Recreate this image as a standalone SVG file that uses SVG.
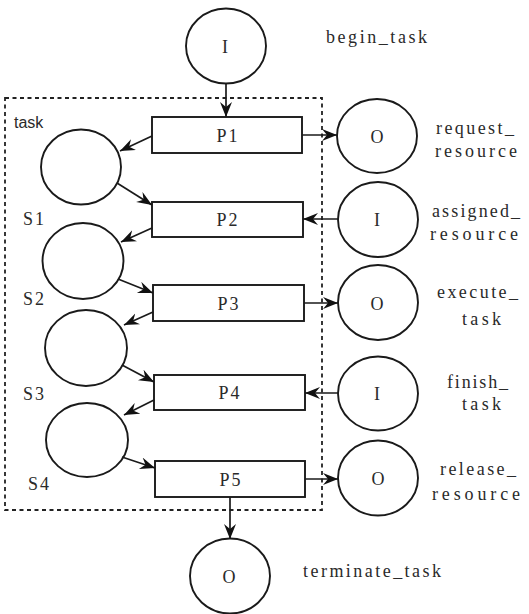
<svg xmlns="http://www.w3.org/2000/svg" width="529" height="614" viewBox="0 0 529 614">
<style>
.pl{fill:#fff;stroke:#1a1a1a;stroke-width:1.9}
.tr{fill:#fff;stroke:#1a1a1a;stroke-width:1.9}
.c{fill:none;stroke:#1a1a1a;stroke-width:1.7}
.t{font-family:'Liberation Serif','Times New Roman',serif;font-size:18px;fill:#2a2a2a;letter-spacing:2px}
.m{text-anchor:middle}
.s{font-family:'Liberation Sans',Arial,sans-serif;font-size:16px;fill:#2a2a2a}
.box{fill:none;stroke:#222;stroke-width:1.8;stroke-dasharray:4 3.5}
</style>
<defs>
<marker id="a" markerUnits="userSpaceOnUse" markerWidth="18" markerHeight="14" refX="15" refY="6" orient="auto">
<path d="M0,0 L15,6 L0,12 L5,6 z" fill="#111"/>
</marker>
</defs>
<rect id="task" class="box" x="5" y="98" width="317" height="412"/>
<text class="s" x="14" y="128">task</text>
<g id="begin_task"><ellipse class="pl" cx="226" cy="46" rx="40" ry="37.5"/><text class="t m" x="226" y="53">I</text></g>
<text class="t" x="326" y="43" textLength="103" lengthAdjust="spacing">begin_task</text>
<g id="P1"><rect class="tr" x="152" y="117" width="150" height="36"/><text class="t m" x="228" y="142">P1</text></g>
<g id="request_resource"><ellipse class="pl" cx="377" cy="136" rx="40" ry="37"/><text class="t m" x="378" y="143">O</text></g>
<text class="t" x="436" y="134" textLength="80" lengthAdjust="spacing">request_</text>
<text class="t" x="435" y="157" textLength="84" lengthAdjust="spacing">resource</text>
<g id="S1p"><ellipse class="pl" cx="81" cy="167" rx="40" ry="37.5"/></g>
<text class="t" x="23" y="225">S1</text>
<g id="P2"><rect class="tr" x="152" y="202" width="151" height="35"/><text class="t m" x="228" y="226">P2</text></g>
<g id="assigned_resource"><ellipse class="pl" cx="378" cy="219.5" rx="40" ry="37.5"/><text class="t m" x="378" y="226">I</text></g>
<text class="t" x="432" y="217" textLength="90" lengthAdjust="spacing">assigned_</text>
<text class="t" x="430" y="240" textLength="90" lengthAdjust="spacing">resource</text>
<g id="S2p"><ellipse class="pl" cx="83" cy="261" rx="40.5" ry="38"/></g>
<text class="t" x="23" y="305">S2</text>
<g id="P3"><rect class="tr" x="153" y="285" width="151" height="36"/><text class="t m" x="229" y="310">P3</text></g>
<g id="execute_task"><ellipse class="pl" cx="378" cy="302.5" rx="40" ry="37.5"/><text class="t m" x="378" y="310">O</text></g>
<text class="t" x="437" y="298" textLength="83" lengthAdjust="spacing">execute_</text>
<text class="t" x="462" y="325" textLength="41" lengthAdjust="spacing">task</text>
<g id="S3p"><ellipse class="pl" cx="86" cy="348" rx="41" ry="38"/></g>
<text class="t" x="23" y="400">S3</text>
<g id="P4"><rect class="tr" x="154" y="375" width="151" height="35"/><text class="t m" x="230" y="399">P4</text></g>
<g id="finish_task"><ellipse class="pl" cx="378" cy="393.5" rx="40" ry="37"/><text class="t m" x="378" y="400">I</text></g>
<text class="t" x="447" y="388" textLength="63" lengthAdjust="spacing">finish_</text>
<text class="t" x="462" y="410" textLength="41" lengthAdjust="spacing">task</text>
<g id="S4p"><ellipse class="pl" cx="87" cy="440" rx="41" ry="37"/></g>
<text class="t" x="28" y="490">S4</text>
<g id="P5"><rect class="tr" x="155" y="461" width="150" height="36"/><text class="t m" x="231" y="486">P5</text></g>
<g id="release_resource"><ellipse class="pl" cx="378" cy="478" rx="40" ry="37.5"/><text class="t m" x="379" y="485">O</text></g>
<text class="t" x="440" y="475" textLength="78" lengthAdjust="spacing">release_</text>
<text class="t" x="432" y="500" textLength="90" lengthAdjust="spacing">resource</text>
<g id="terminate_task"><ellipse class="pl" cx="230" cy="576" rx="40" ry="37.5"/><text class="t m" x="230" y="583">O</text></g>
<text class="t" x="303" y="577" textLength="140" lengthAdjust="spacing">terminate_task</text>
<g id="connectors" class="c">
<line x1="226" y1="84" x2="226" y2="117" marker-end="url(#a)"/>
<line x1="152" y1="136" x2="120" y2="151" marker-end="url(#a)"/>
<line x1="302" y1="135" x2="337" y2="135" marker-end="url(#a)"/>
<line x1="117" y1="183" x2="152" y2="205" marker-end="url(#a)"/>
<line x1="338" y1="219" x2="303" y2="219" marker-end="url(#a)"/>
<line x1="152" y1="228" x2="121" y2="242" marker-end="url(#a)"/>
<line x1="118" y1="279" x2="153" y2="293" marker-end="url(#a)"/>
<line x1="304" y1="303" x2="338" y2="303" marker-end="url(#a)"/>
<line x1="153" y1="312" x2="124" y2="325" marker-end="url(#a)"/>
<line x1="122" y1="365" x2="154" y2="382" marker-end="url(#a)"/>
<line x1="338" y1="393" x2="305" y2="393" marker-end="url(#a)"/>
<line x1="154" y1="400" x2="124" y2="415" marker-end="url(#a)"/>
<line x1="122" y1="457" x2="155" y2="468" marker-end="url(#a)"/>
<line x1="305" y1="479" x2="338" y2="479" marker-end="url(#a)"/>
<line x1="230" y1="497" x2="230" y2="539" marker-end="url(#a)"/>
</g>
</svg>
